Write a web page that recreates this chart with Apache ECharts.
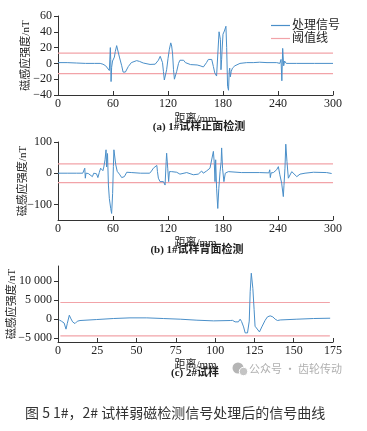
<!DOCTYPE html>
<html>
<head>
<meta charset="utf-8">
<script src="https://cdn.jsdelivr.net/npm/echarts@6/dist/echarts.min.js"></script>
<style>
html,body{margin:0;padding:0;background:#fff;}
#main{width:367px;height:431px;}
</style>
</head>
<body>
<div id="main"></div>
<script>
// ---- data ----
const seriesNames = ['处理信号', '阈值线'];

// (a) 1# front face
const aX = [0,10,20,30,40,46,49,52,54,56,56.7,57.1,57.5,57.9,58.5,59.5,60.4,61.5,62.5,64,65,67,69.5,71,72,73.5,76.7,80,82,85.8,89,93,100.4,106,108,109.5,111.5,112.5,114,115,116,117,118.5,120,121.5,123,124,125,126,127,128,129.5,131.5,133,135,137,139,144.6,151.8,155,158.6,160.5,162,164,166,167.7,169.5,171,173,174,175,175.7,176.5,177.2,177.8,178.5,179,180,181.5,182.5,183.2,184,185,186,186.8,187.3,188,189,190.3,193,198.5,205.8,213,220,228,238.6,242,243.3,244.2,245.1,246.2,247.2,249,260,280,300];
const aY = [1,1,0.5,0,0,0,-1,-3,-5,-9,-10,20,5,-23,-5,3,4,8,15,22.5,21,8,-3,-11,-13.5,-11,-4,1,2.5,3.5,2.5,0.5,-1.3,-1,1,4,9,7,1,-10,-21,-20,-8,6,18,26,22,12,-8,-20,-19,-10,0,4,6,4,1,-1.5,-2,-3,-4.5,-2,1,5,7,5,-4,-12,-16,-17,-14,40,41,30,-8,5,17,37,41,43,47,20,-29,-34,-10,-6,-17,-10,-6,-3,0,1,1,1.5,1,1,0,5,-22,19,-3,3,0,0,0,0];
const aThreshold = 13;

// (b) 1# back face
const bX = [0,10,20,27,28.5,29.2,29.8,30.5,33,35,37.5,39,40.5,42,43.5,45,46.5,48,49,50,51.3,52.4,53,54,55,56,57.5,58.5,59.6,60.4,61,61.8,63,64.6,67,69.5,72.4,75,80.5,90,100,102,104,106,107.8,108.5,109.5,111.3,113,115,116.8,118,118.5,119.7,120.7,121.5,124,129.5,133,140.4,147.6,153,156.7,158.5,162,165.8,167.6,169.5,170.5,171.3,172,173,174.3,175.4,176.8,178,178.5,179.5,181,182.5,185.8,200,220,230,231,231.6,232.5,235,238.5,240.4,242,244,245,245.8,246.5,247.6,248.5,249.8,251.3,253,255,257,260.5,264,269.5,278.6,293,298.5];
const bY = [0,0,0,0,0,16,-16,0,-1,-3,-11,0,5,-2,-14,2,16,21,8,20,43,75,20,63,-38,-81,-113,-129,-65,21,75,81,27,6,-3,-14,-11,3,2,0,0,7,16,21,25,5,-16,-27,-32,-27,-38,37,64,16,-27,5,5,3,-3,2,-5,-3,7,0,7,16,21,70,32,-27,43,-48,-113,-50,5,37,81,16,-27,0,5,2,2,1,11,-14,1,2,11,21,-5,-32,-38,-75,-40,16,93,37,-16,-11,5,5,-11,-3,0,3,2,-1];
const bThreshold = 30;

// (c) 2# specimen
const cX = [0.8,2.2,3.3,3.9,5.1,5.9,7.2,8,9.3,10.8,12.3,14,24.6,35.2,45.8,56.5,67,77.8,88.4,99,109.6,111,112.7,114.8,115.9,116.8,118.1,119.1,120.6,121.7,122.3,123,124,124.8,125.4,126.5,128.2,129.7,131.8,133.3,135,136.7,138.2,139.7,141.4,152,162.6,173.2];
const cY = [-200,-530,-530,-1000,-2620,-1150,1060,300,-700,-1150,-530,-350,-90,180,350,350,180,0,-260,-440,-350,-300,-700,-700,0,-600,-2030,-3600,-3600,-500,7230,12100,8100,2500,-1850,-2300,-3350,-2030,-300,620,880,620,0,-350,-200,0,180,260];
const cThreshold = 4400;
const cThrRange = [1.5, 173];

// tick values
const aXTicks = [0, 60, 120, 180, 240, 300];
const aYTicks = [-40, -20, 0, 20, 40, 60];
const bYTicks = [-100, 0, 100];
const cXTicks = [0, 25, 50, 75, 100, 125, 150, 175];
const cYTicks = [-5000, 0, 5000, 10000];

const subTitles = ['(a) 1#试样正面检测', '(b) 1#试样背面检测', '(c) 2#试样'];
const xName = '距离/mm';
const yName = '磁感应强度/nT';
const caption = '图 5 1#，2# 试样弱磁检测信号处理后的信号曲线';
const watermark = '公众号 · 齿轮传动';

// ---- build chart ----
const SERIF = '"Liberation Serif","DejaVu Serif","Noto Sans CJK SC",serif';
const SANS = '"Noto Sans CJK SC","Noto Sans",sans-serif';
const BLUE = '#4a8fc9';
const PINK = '#f2a3a8';
const AXIS = '#333';

function zip(xs, ys) { return xs.map((x, i) => [x, ys[i]]); }
function fmt(v) {
  let s = Math.abs(v) >= 1000 ? String(Math.abs(v)).replace(/\B(?=(\d{3})+(?!\d))/g, ' ') : String(Math.abs(v));
  return (v < 0 ? '\u2212' : '') + s;
}

const grids = [
  {left: 58, top: 16, width: 275, height: 79, outerBoundsMode: 'none', containLabel: false},
  {left: 58, top: 142, width: 275, height: 78, outerBoundsMode: 'none', containLabel: false},
  {left: 58, top: 266, width: 275, height: 76, outerBoundsMode: 'none', containLabel: false}
];

function xAxisCfg(idx, max, interval, ticks, gap) {
  return {
    type: 'value', gridIndex: idx, min: 0, max: max, interval: interval,
    name: xName, nameLocation: 'middle', nameGap: gap, nameMoveOverlap: false,
    nameTextStyle: {fontFamily: SERIF, fontSize: 11, color: '#222'},
    axisLine: {show: true, onZero: false, lineStyle: {color: AXIS, width: 1}},
    axisTick: {show: true, inside: true, length: 4, lineStyle: {color: AXIS}},
    axisLabel: {fontFamily: SERIF, fontSize: 12, color: '#222', margin: 3, customValues: ticks},
    splitLine: {show: false}
  };
}
function yAxisCfg(idx, min, max, ticks, gap) {
  return {
    type: 'value', gridIndex: idx, min: min, max: max,
    name: yName, nameLocation: 'middle', nameGap: gap, nameMoveOverlap: false,
    nameTextStyle: {fontFamily: SERIF, fontSize: 11, color: '#222'},
    axisLine: {show: true, onZero: false, lineStyle: {color: AXIS, width: 1}},
    axisTick: {show: true, inside: false, length: 4, lineStyle: {color: AXIS}, customValues: ticks},
    axisLabel: {fontFamily: SERIF, fontSize: 12, color: '#222', margin: 6, customValues: ticks, formatter: fmt},
    splitLine: {show: false}
  };
}

function sig(idx, data) {
  return {name: seriesNames[0], type: 'line', xAxisIndex: idx, yAxisIndex: idx, data: data,
    showSymbol: false, symbol: 'none', smooth: false, animation: false,
    lineStyle: {color: BLUE, width: 1}, itemStyle: {color: BLUE}, z: 3};
}
function thr(idx, x0, x1, v) {
  return {name: seriesNames[1], type: 'line', xAxisIndex: idx, yAxisIndex: idx,
    data: [[x0, v], [x1, v]], showSymbol: false, symbol: 'none', animation: false,
    lineStyle: {color: PINK, width: 1.2}, itemStyle: {color: PINK}, z: 2};
}

const option = {
  backgroundColor: '#fff',
  animation: false,
  grid: grids,
  legend: {
    data: seriesNames.map(n => ({name: n, icon: 'rect'})), orient: 'vertical', left: 266, top: 14,
    itemWidth: 19, itemHeight: 1.2, itemGap: 0,
    textStyle: {fontFamily: SERIF, fontSize: 12, color: '#222', lineHeight: 13, padding: [0, 0, 0, -3]}
  },
  xAxis: [
    xAxisCfg(0, 300, 60, aXTicks, 19),
    xAxisCfg(1, 300, 60, aXTicks, 18),
    xAxisCfg(2, 175, 25, cXTicks, 18)
  ],
  yAxis: [
    Object.assign(yAxisCfg(0, -40, 60, aYTicks, 26), {interval: 20}),
    yAxisCfg(1, -150, 100, bYTicks, 29),
    yAxisCfg(2, -6000, 14000, cYTicks, 40)
  ],
  series: [
    sig(0, zip(aX, aY)), thr(0, 0, 300, aThreshold), thr(0, 0, 300, -aThreshold),
    sig(1, zip(bX, bY)), thr(1, 0, 300, bThreshold), thr(1, 0, 300, -bThreshold),
    sig(2, zip(cX, cY)), thr(2, cThrRange[0], cThrRange[1], cThreshold), thr(2, cThrRange[0], cThrRange[1], -cThreshold)
  ],
  graphic: [
    {type: 'text', x: 199, y: 127, style: {text: subTitles[0], font: 'bold 11px ' + SERIF, fill: '#222', textAlign: 'center', textVerticalAlign: 'middle'}},
    {type: 'text', x: 197, y: 250, style: {text: subTitles[1], font: 'bold 11px ' + SERIF, fill: '#222', textAlign: 'center', textVerticalAlign: 'middle'}},
    {type: 'text', x: 195, y: 373, style: {text: subTitles[2], font: 'bold 11px ' + SERIF, fill: '#222', textAlign: 'center', textVerticalAlign: 'middle'}},
    {type: 'circle', shape: {cx: 238, cy: 368, r: 5.5}, style: {fill: '#b5b5b5'}},
    {type: 'circle', shape: {cx: 243.5, cy: 371.5, r: 4.2}, style: {fill: '#c4c4c4', stroke: '#fff', lineWidth: 1}},
    {type: 'text', x: 249, y: 369, style: {text: watermark, font: '11px ' + SANS, fill: '#b0b0b0', textVerticalAlign: 'middle'}},
    {type: 'text', x: 25, y: 413, style: {text: caption, font: '14px ' + SANS, fill: '#333', textVerticalAlign: 'middle'}}
  ]
};

const chart = echarts.init(document.getElementById('main'), null, {renderer: 'canvas'});
chart.setOption(option);
</script>
</body>
</html>
